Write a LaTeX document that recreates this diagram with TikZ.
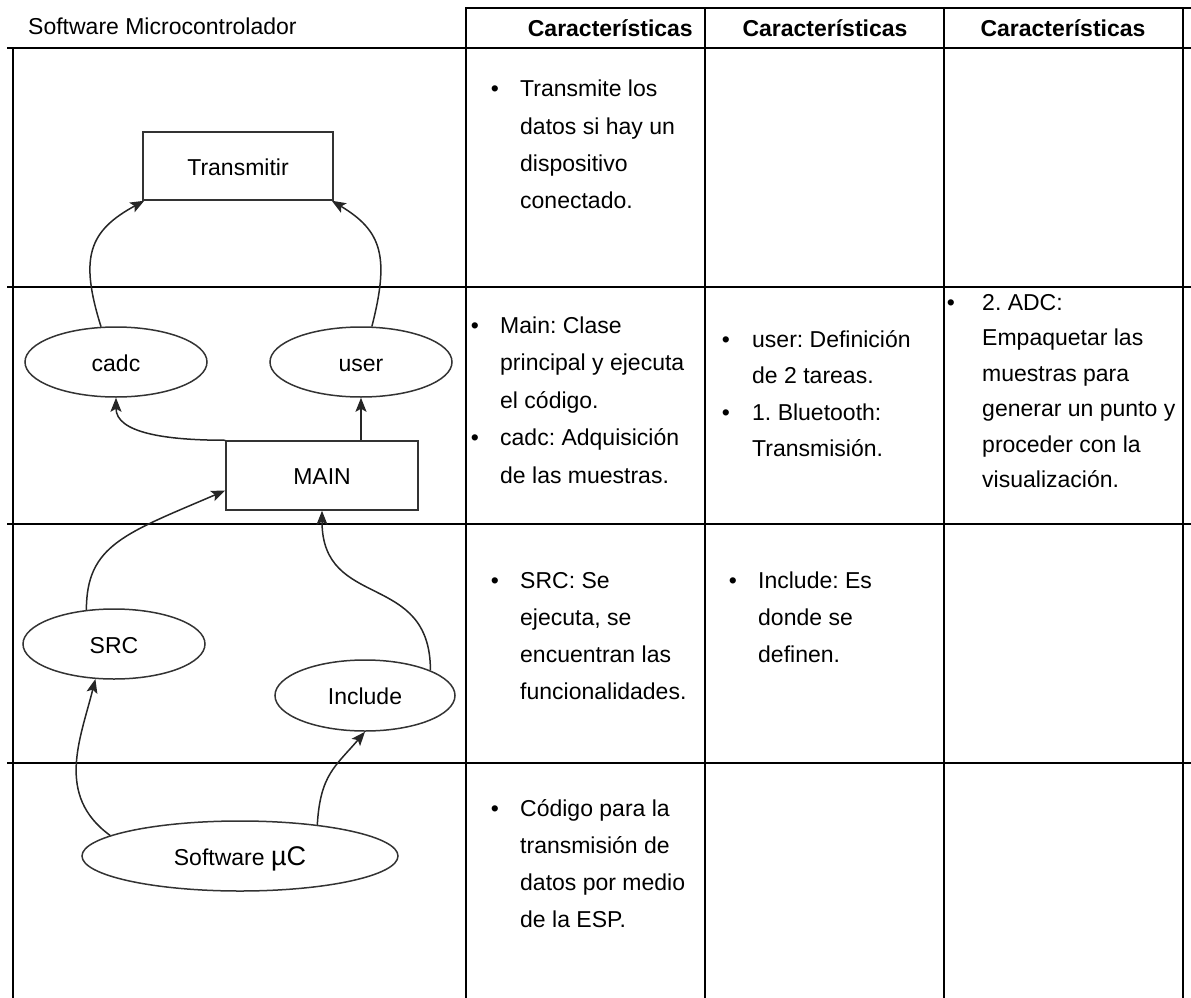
\documentclass[tikz,border=0pt]{standalone}
\usepackage{fontspec}
\setmainfont{Liberation Sans}
\usetikzlibrary{shapes.geometric,arrows.meta}
\frenchspacing

\newcommand{\txtfont}{\fontsize{23}{37.5}\selectfont}
\newcommand{\bigmu}{\fontsize{27}{27}\selectfont}

\begin{document}
\begin{tikzpicture}[x=1pt,y=-1pt,
	gridline/.style={line width=1.6pt,draw=black,line cap=rect},
	rectnode/.style={draw=black!80,line width=1.5pt,minimum width=190pt,minimum height=68pt,inner sep=0pt,font=\txtfont,text height=18pt,text depth=0pt},
	ovalnode/.style={ellipse,draw=black!80,line width=1.5pt,minimum width=182pt,minimum height=70pt,inner sep=0pt,font=\txtfont,text height=18pt,text depth=0pt},
	flowarrow/.style={line width=1.5pt,draw=black!85,-{Stealth[length=14pt,width=11pt,inset=3pt]}},
	celltext/.style={anchor=base west,inner sep=0pt,font=\txtfont},
	bulletmark/.style={anchor=base,inner sep=0pt,font=\txtfont},
	headtext/.style={inner sep=0pt,font=\txtfont}]

\useasboundingbox (0,0) rectangle (1191,998);

% Table frame
\draw[gridline] (466,8) -- (1191,8);
\foreach \y in {48,287,524,763}
	\draw[gridline] (8,\y) -- (1191,\y);
\draw[gridline] (13,48) -- (13,998);
\foreach \x in {466,705,944,1183}
	\draw[gridline] (\x,8) -- (\x,998);

% Header row
\node[headtext,anchor=base west] (hsw) at (28,35) {Software Microcontrolador};
\node[headtext,anchor=base east,font=\txtfont\bfseries] (hc1) at (693,37) {Características};
\node[headtext,anchor=base,font=\txtfont\bfseries] (hc2) at (825,37) {Características};
\node[headtext,anchor=base,font=\txtfont\bfseries] (hc3) at (1063,37) {Características};

% Diagram nodes
\node[rectnode] (trans) at (238,166) {Transmitir};
\node[ovalnode] (cadc) at (116,362) {cadc};
\node[ovalnode] (user) at (361,362) {user};
\node[rectnode,minimum width=192pt,minimum height=69pt] (main) at (322,475.5) {MAIN};
\node[ovalnode] (src) at (114,644) {SRC};
\node[ovalnode,minimum width=180pt,minimum height=71pt] (inc) at (365,695.5) {Include};
\node[ovalnode,minimum width=316pt] (swuc) at (240,856) {Software {\bigmu µC}};

% Connectors
\draw[flowarrow] (cadc.113) .. controls +(-22,-70) and +(-55,30) .. ([xshift=2pt]trans.south west);
\draw[flowarrow] (user.73) .. controls +(18,-70) and +(50,30) .. ([xshift=-2pt]trans.south east);
\draw[flowarrow] (user.south |- main.north) -- (user.south);
\draw[flowarrow] (main.north west) .. controls +(-60,0) and +(0,35) .. (cadc.south);
\draw[flowarrow] (src.129) .. controls +(0,-65) and +(-100,43) .. ([yshift=-15pt]main.west);
\draw[flowarrow] (inc.21) .. controls +(0,-100) and +(0,100) .. (main.south);
\draw[flowarrow] (swuc.171) .. controls +(-55,-40) and +(-15,60) .. (src.242);
\draw[flowarrow] (swuc.22) .. controls +(3,-50) and +(-30,35) .. (inc.south);

% Row 1: Transmitir
\begin{scope}[shift={(520,96.7)}]
	\node[bulletmark] (r1c1-b) at (-25,0) {•};
	\foreach \txt [count=\i from 0] in {Transmite los,datos si hay un,dispositivo,conectado.}
		\node[celltext] (r1c1-\i) at (0,37.4*\i) {\txt};
\end{scope}

% Row 2: MAIN, cadc, user
\begin{scope}[shift={(500,333)}]
	\node[bulletmark] (r2c1-b1) at (-25,0) {•};
	\node[bulletmark] (r2c1-b2) at (-25,3*37.5) {•};
	\foreach \txt [count=\i from 0] in {Main: Clase,principal y ejecuta,el código.,cadc: Adquisición,de las muestras.}
		\node[celltext] (r2c1-\i) at (0,37.5*\i) {\txt};
\end{scope}
\begin{scope}[shift={(752,347)}]
	\node[bulletmark] (r2c2-b1) at (-26,0) {•};
	\node[bulletmark] (r2c2-b2) at (-26,2*36.5) {•};
	\foreach \txt [count=\i from 0] in {user: Definición,de 2 tareas.,1. Bluetooth:,Transmisión.}
		\node[celltext] (r2c2-\i) at (0,36.5*\i) {\txt};
\end{scope}
\begin{scope}[shift={(982,310)}]
	\node[bulletmark] (r2c3-b) at (-31,0) {•};
	\foreach \txt [count=\i from 0] in {2. ADC:,Empaquetar las,muestras para,generar un punto y,proceder con la,visualización.}
		\node[celltext] (r2c3-\i) at (0,35.5*\i) {\txt};
\end{scope}

% Row 3: SRC, Include
\begin{scope}[shift={(520,588)}]
	\node[bulletmark] (r3c1-b) at (-25,0) {•};
	\foreach \txt [count=\i from 0] in {SRC: Se,{ejecuta, se},encuentran las,funcionalidades.}
		\node[celltext] (r3c1-\i) at (0,37.3*\i) {\txt};
\end{scope}
\begin{scope}[shift={(758,588)}]
	\node[bulletmark] (r3c2-b) at (-25,0) {•};
	\foreach \txt [count=\i from 0] in {Include: Es,donde se,definen.}
		\node[celltext] (r3c2-\i) at (0,37.3*\i) {\txt};
\end{scope}

% Row 4: Software uC
\begin{scope}[shift={(520,816)}]
	\node[bulletmark] (r4c1-b) at (-25,0) {•};
	\foreach \txt [count=\i from 0] in {Código para la,transmisión de,datos por medio,de la ESP.}
		\node[celltext] (r4c1-\i) at (0,37.3*\i) {\txt};
\end{scope}

\end{tikzpicture}
\end{document}
